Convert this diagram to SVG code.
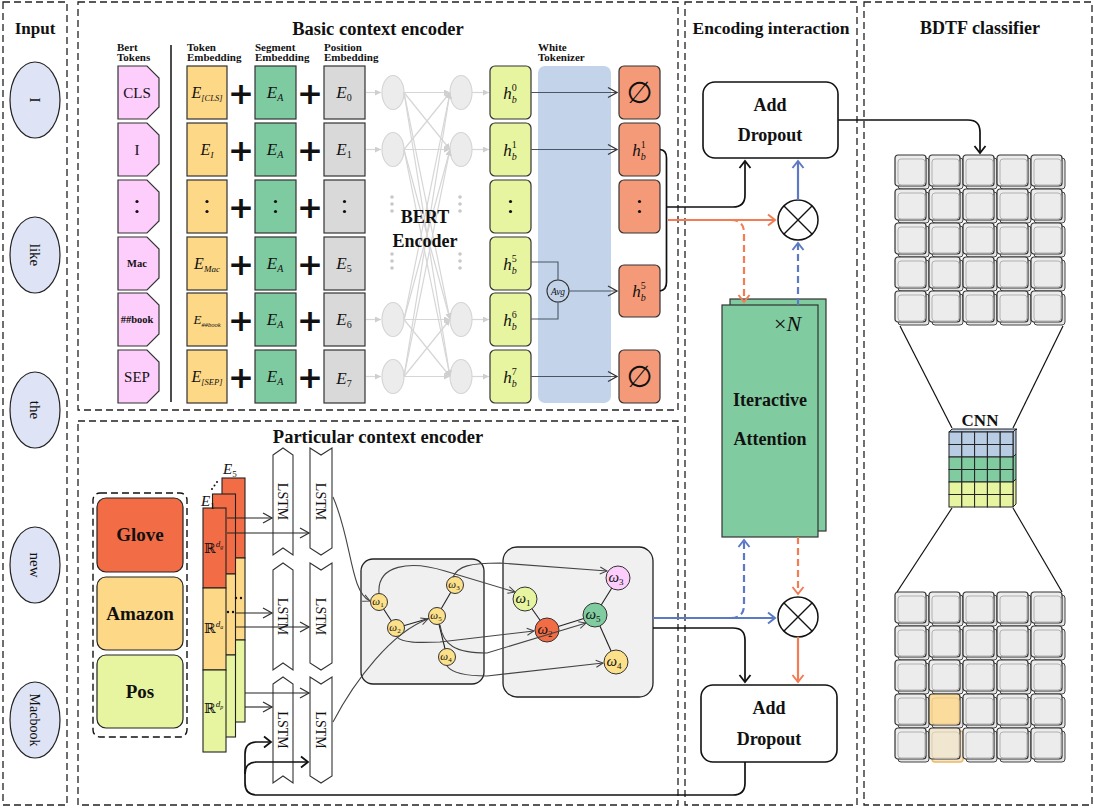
<svg xmlns="http://www.w3.org/2000/svg" width="1094" height="808" viewBox="0 0 1094 808">
<defs>
<style>
.pn{fill:none;stroke:#222;stroke-width:1.3;stroke-dasharray:7 4}
.t{font-family:"Liberation Serif",serif;font-weight:bold;fill:#111}
.r{font-family:"Liberation Serif",serif;fill:#111}
.mi{font-family:"Liberation Serif",serif;font-style:italic;fill:#111}
.pl{font-family:"DejaVu Sans",sans-serif;font-weight:bold;font-size:31px;fill:#111;text-anchor:middle}
.gl{stroke:#d6d6d6;stroke-width:1.2;fill:none}
.ar{stroke:#444;stroke-width:1.1;fill:none}
.bk{stroke:#111;stroke-width:1.7;fill:none}
.or{stroke:#f47c55;stroke-width:2.2;fill:none}
.bl{stroke:#5b79c4;stroke-width:2.2;fill:none}
.dh{stroke-dasharray:7 4}
.tk{fill:#fdcdfb;stroke:#333;stroke-width:1.2}
.te{fill:#fdd887;stroke:#333;stroke-width:1.2}
.se{fill:#7fcba1;stroke:#333;stroke-width:1.2}
.pe{fill:#d9d9d9;stroke:#333;stroke-width:1.2}
.hb{fill:#e8f5a0;stroke:#333;stroke-width:1.2}
.ob{fill:#f59a78;stroke:#333;stroke-width:1.2}
.ne{fill:#ececec;stroke:#d6d6d6;stroke-width:1.2}
.ls{fill:#fff;stroke:#333;stroke-width:1.1}
.gn{stroke:#222;stroke-width:1.1}
.dot{fill:#111}
.gd{fill:#c8c8c8}
</style>
<marker id="mg" markerUnits="userSpaceOnUse" markerWidth="7" markerHeight="7" refX="6" refY="3" orient="auto"><path d="M0,0 L6,3 L0,6 z" fill="#cfcfcf"/></marker>
<marker id="mo" markerUnits="userSpaceOnUse" markerWidth="12" markerHeight="12" refX="9" refY="5" orient="auto" overflow="visible"><path d="M0,0 L9,5 L0,10" fill="none" stroke="#333" stroke-width="1.3"/></marker>
<marker id="mt" markerUnits="userSpaceOnUse" markerWidth="10" markerHeight="10" refX="7" refY="3.5" orient="auto" overflow="visible"><path d="M0,0 L7,3.5 L0,7" fill="none" stroke="#444" stroke-width="1"/></marker>
<marker id="mk" markerUnits="userSpaceOnUse" markerWidth="12" markerHeight="14" refX="7" refY="5.5" orient="auto" overflow="visible"><path d="M0,0 L7,5.5 L0,11" fill="none" stroke="#111" stroke-width="1.8"/></marker>
<marker id="mr" markerUnits="userSpaceOnUse" markerWidth="12" markerHeight="14" refX="7" refY="5.5" orient="auto" overflow="visible"><path d="M0,0 L7,5.5 L0,11" fill="none" stroke="#f47c55" stroke-width="2"/></marker>
<marker id="mb" markerUnits="userSpaceOnUse" markerWidth="12" markerHeight="14" refX="7" refY="5.5" orient="auto" overflow="visible"><path d="M0,0 L7,5.5 L0,11" fill="none" stroke="#5b79c4" stroke-width="2"/></marker>
<g id="cell"><rect x="3" y="3" width="31" height="31" rx="3" fill="#e4e4e4" stroke="#444" stroke-width="1"/><rect x="0" y="0" width="31" height="31" rx="3" fill="#ececec" stroke="#333" stroke-width="1.2"/><rect x="3" y="4" width="27" height="26" rx="3" fill="none" stroke="#b0b0b0" stroke-width="1"/></g>
<g id="cellY"><rect x="3" y="3" width="31" height="31" rx="3" fill="#e4e4e4" stroke="#444" stroke-width="1"/><rect x="0" y="0" width="31" height="31" rx="3" fill="#fbdc9c" stroke="#333" stroke-width="1.2"/><rect x="3" y="4" width="27" height="26" rx="3" fill="none" stroke="#e8c88a" stroke-width="1"/></g>
<g id="cellP"><rect x="3" y="3" width="31" height="31" rx="3" fill="#f1e6cf" stroke="#f0b860" stroke-width="1.4"/><rect x="0" y="0" width="31" height="31" rx="3" fill="#f1e6cf" stroke="#333" stroke-width="1.2"/><rect x="3" y="4" width="27" height="26" rx="3" fill="none" stroke="#d8cdb8" stroke-width="1"/></g>
</defs>
<rect width="1094" height="808" fill="#fff"/>

<g id="panels">
<rect class="pn" x="3" y="2" width="64" height="803"/>
<rect class="pn" x="78" y="2" width="600" height="408"/>
<rect class="pn" x="78" y="421" width="600" height="384"/>
<rect class="pn" x="685" y="2" width="172" height="803"/>
<rect class="pn" x="864" y="2" width="228" height="803"/>
<text class="t" x="35" y="34" font-size="17" text-anchor="middle">Input</text>
<text class="t" x="378" y="35" font-size="18.5" text-anchor="middle">Basic context encoder</text>
<text class="t" x="378" y="443" font-size="18.5" text-anchor="middle">Particular context encoder</text>
<text class="t" x="771" y="34" font-size="17.5" text-anchor="middle">Encoding interaction</text>
<text class="t" x="980" y="34" font-size="18" text-anchor="middle">BDTF classifier</text>
</g>

<g id="input">
<g fill="#dfe3f6" stroke="#222" stroke-width="1.2">
<ellipse cx="35" cy="100" rx="25" ry="38"/>
<ellipse cx="35" cy="255" rx="25" ry="38"/>
<ellipse cx="35" cy="410" rx="25" ry="38"/>
<ellipse cx="35" cy="565" rx="25" ry="38"/>
<ellipse cx="35" cy="720" rx="25" ry="38"/>
</g>
<g class="r" font-size="15" text-anchor="middle">
<text transform="translate(35,100) rotate(90)" y="5">I</text>
<text transform="translate(35,255) rotate(90)" y="5">like</text>
<text transform="translate(35,410) rotate(90)" y="5">the</text>
<text transform="translate(35,565) rotate(90)" y="5">new</text>
<text transform="translate(35,720) rotate(90)" y="5" font-size="14">Macbook</text>
</g>
</g>

<g id="headers" class="t" font-size="11">
<text x="117" y="51">Bert</text><text x="117" y="61">Tokens</text>
<text x="187" y="51">Token</text><text x="187" y="61">Embedding</text>
<text x="255" y="51">Segment</text><text x="255" y="61">Embedding</text>
<text x="324" y="51">Position</text><text x="324" y="61">Embedding</text>
<text x="538" y="51">White</text><text x="538" y="61">Tokenizer</text>
<line x1="171" y1="45" x2="171" y2="402" stroke="#111" stroke-width="1.5"/>
</g>

<g id="white-tokenizer"><rect x="538" y="66" width="73" height="337" rx="7" fill="#c3d4ea"/></g>

<g id="bert-tokens">
<polygon class="tk" points="118,66 147,66 159,78 159,107 147,119 118,119"/>
<polygon class="tk" points="118,123 147,123 159,135 159,164 147,176 118,176"/>
<polygon class="tk" points="118,180 147,180 159,192 159,221 147,233 118,233"/>
<polygon class="tk" points="118,237 147,237 159,249 159,278 147,290 118,290"/>
<polygon class="tk" points="118,293 147,293 159,305 159,334 147,346 118,346"/>
<polygon class="tk" points="118,350 147,350 159,362 159,391 147,403 118,403"/>
<text class="r" x="137" y="98" font-size="15" text-anchor="middle">CLS</text>
<text class="r" x="137" y="155" font-size="15" text-anchor="middle">I</text>
<circle class="dot" cx="137" cy="201.5" r="1.6"/><circle class="dot" cx="137" cy="211.5" r="1.6"/>
<text class="t" x="137" y="267" font-size="10.5" text-anchor="middle">Mac</text>
<text class="t" x="137" y="323" font-size="10.5" text-anchor="middle">##book</text>
<text class="r" x="137" y="382" font-size="15" text-anchor="middle">SEP</text>
</g>

<g id="token-embedding">
<rect class="te" x="187" y="66" width="40" height="53"/>
<rect class="te" x="187" y="123" width="40" height="53"/>
<rect class="te" x="187" y="180" width="40" height="53"/>
<rect class="te" x="187" y="237" width="40" height="53"/>
<rect class="te" x="187" y="293" width="40" height="53"/>
<rect class="te" x="187" y="350" width="40" height="53"/>
<text class="mi" x="207" y="98" font-size="16" text-anchor="middle">E<tspan font-size="8.5" dy="3">[CLS]</tspan></text>
<text class="mi" x="207" y="155" font-size="16" text-anchor="middle">E<tspan font-size="9" dy="3">I</tspan></text>
<circle class="dot" cx="207" cy="201.5" r="1.6"/><circle class="dot" cx="207" cy="211.5" r="1.6"/>
<text class="mi" x="207" y="269" font-size="16" text-anchor="middle">E<tspan font-size="9" dy="3">Mac</tspan></text>
<text class="mi" x="207" y="324" font-size="13" text-anchor="middle">E<tspan font-size="6.5" dy="3">##book</tspan></text>
<text class="mi" x="207" y="382" font-size="16" text-anchor="middle">E<tspan font-size="8.5" dy="3">[SEP]</tspan></text>
</g>

<g id="plus">
<text class="pl" x="241" y="103.5">+</text>
<text class="pl" x="241" y="160.5">+</text>
<text class="pl" x="241" y="217.5">+</text>
<text class="pl" x="241" y="274.5">+</text>
<text class="pl" x="241" y="330.5">+</text>
<text class="pl" x="241" y="387.5">+</text>
<text class="pl" x="310" y="103.5">+</text>
<text class="pl" x="310" y="160.5">+</text>
<text class="pl" x="310" y="217.5">+</text>
<text class="pl" x="310" y="274.5">+</text>
<text class="pl" x="310" y="330.5">+</text>
<text class="pl" x="310" y="387.5">+</text>
</g>

<g id="segment-embedding">
<rect class="se" x="255" y="66" width="41" height="53"/>
<rect class="se" x="255" y="123" width="41" height="53"/>
<rect class="se" x="255" y="180" width="41" height="53"/>
<rect class="se" x="255" y="237" width="41" height="53"/>
<rect class="se" x="255" y="293" width="41" height="53"/>
<rect class="se" x="255" y="350" width="41" height="53"/>
<text class="mi" x="275" y="98" font-size="17" text-anchor="middle">E<tspan font-size="10" dy="3">A</tspan></text>
<text class="mi" x="275" y="155" font-size="17" text-anchor="middle">E<tspan font-size="10" dy="3">A</tspan></text>
<circle class="dot" cx="275.5" cy="201.5" r="1.6"/><circle class="dot" cx="275.5" cy="211.5" r="1.6"/>
<text class="mi" x="275" y="269" font-size="17" text-anchor="middle">E<tspan font-size="10" dy="3">A</tspan></text>
<text class="mi" x="275" y="325" font-size="17" text-anchor="middle">E<tspan font-size="10" dy="3">A</tspan></text>
<text class="mi" x="275" y="382" font-size="17" text-anchor="middle">E<tspan font-size="10" dy="3">A</tspan></text>
</g>

<g id="position-embedding">
<rect class="pe" x="324" y="66" width="41" height="53"/>
<rect class="pe" x="324" y="123" width="41" height="53"/>
<rect class="pe" x="324" y="180" width="41" height="53"/>
<rect class="pe" x="324" y="237" width="41" height="53"/>
<rect class="pe" x="324" y="293" width="41" height="53"/>
<rect class="pe" x="324" y="350" width="41" height="53"/>
<text class="mi" x="344" y="98" font-size="17" text-anchor="middle">E<tspan class="r" font-style="normal" font-size="10" dy="3">0</tspan></text>
<text class="mi" x="344" y="155" font-size="17" text-anchor="middle">E<tspan class="r" font-style="normal" font-size="10" dy="3">1</tspan></text>
<circle class="dot" cx="344.5" cy="201.5" r="1.6"/><circle class="dot" cx="344.5" cy="211.5" r="1.6"/>
<text class="mi" x="344" y="269" font-size="17" text-anchor="middle">E<tspan class="r" font-style="normal" font-size="10" dy="3">5</tspan></text>
<text class="mi" x="344" y="325" font-size="17" text-anchor="middle">E<tspan class="r" font-style="normal" font-size="10" dy="3">6</tspan></text>
<text class="mi" x="344" y="384" font-size="17" text-anchor="middle">E<tspan class="r" font-style="normal" font-size="10" dy="3">7</tspan></text>
</g>

<g id="bert-encoder">
<ellipse class="ne" cx="393" cy="92.5" rx="11" ry="17"/>
<ellipse class="ne" cx="393" cy="149.5" rx="11" ry="17"/>
<ellipse class="ne" cx="393" cy="319.5" rx="11" ry="17"/>
<ellipse class="ne" cx="393" cy="376.5" rx="11" ry="17"/>
<ellipse class="ne" cx="461" cy="92.5" rx="11" ry="17"/>
<ellipse class="ne" cx="461" cy="149.5" rx="11" ry="17"/>
<ellipse class="ne" cx="461" cy="319.5" rx="11" ry="17"/>
<ellipse class="ne" cx="461" cy="376.5" rx="11" ry="17"/>
<circle class="gd" cx="392" cy="197" r="1.8"/><circle class="gd" cx="392" cy="204" r="1.8"/><circle class="gd" cx="392" cy="211" r="1.8"/>
<circle class="gd" cx="392" cy="254" r="1.8"/><circle class="gd" cx="392" cy="261" r="1.8"/><circle class="gd" cx="392" cy="268" r="1.8"/>
<circle class="gd" cx="460" cy="197" r="1.8"/><circle class="gd" cx="460" cy="204" r="1.8"/><circle class="gd" cx="460" cy="211" r="1.8"/>
<circle class="gd" cx="460" cy="254" r="1.8"/><circle class="gd" cx="460" cy="261" r="1.8"/><circle class="gd" cx="460" cy="268" r="1.8"/>
</g>

<g id="hidden-states">
<rect class="hb" x="490" y="66" width="41" height="53" rx="5"/>
<rect class="hb" x="490" y="123" width="41" height="53" rx="5"/>
<rect class="hb" x="490" y="180" width="41" height="53" rx="5"/>
<rect class="hb" x="490" y="237" width="41" height="53" rx="5"/>
<rect class="hb" x="490" y="293" width="41" height="53" rx="5"/>
<rect class="hb" x="490" y="350" width="41" height="53" rx="5"/>
<text class="mi" x="510" y="99" font-size="17" text-anchor="middle">h<tspan font-size="10" dy="4">b</tspan><tspan class="r" font-style="normal" font-size="10" dx="-5" dy="-12">0</tspan></text>
<text class="mi" x="510" y="156" font-size="17" text-anchor="middle">h<tspan font-size="10" dy="4">b</tspan><tspan class="r" font-style="normal" font-size="10" dx="-5" dy="-12">1</tspan></text>
<circle class="dot" cx="510.5" cy="201.5" r="1.6"/><circle class="dot" cx="510.5" cy="211.5" r="1.6"/>
<text class="mi" x="510" y="270" font-size="17" text-anchor="middle">h<tspan font-size="10" dy="4">b</tspan><tspan class="r" font-style="normal" font-size="10" dx="-5" dy="-12">5</tspan></text>
<text class="mi" x="510" y="326" font-size="17" text-anchor="middle">h<tspan font-size="10" dy="4">b</tspan><tspan class="r" font-style="normal" font-size="10" dx="-5" dy="-12">6</tspan></text>
<text class="mi" x="510" y="383" font-size="17" text-anchor="middle">h<tspan font-size="10" dy="4">b</tspan><tspan class="r" font-style="normal" font-size="10" dx="-5" dy="-12">7</tspan></text>
</g>

<g id="avg">
<circle cx="558" cy="291" r="11" fill="#c3d4ea" stroke="#333" stroke-width="1.1"/>
<text class="mi" x="558" y="294.5" font-size="9.5" text-anchor="middle">Avg</text>
</g>

<g id="outputs">
<rect class="ob" x="619" y="66" width="41" height="53" rx="5"/>
<rect class="ob" x="619" y="123" width="41" height="53" rx="5"/>
<rect class="ob" x="619" y="180" width="41" height="53" rx="5"/>
<rect class="ob" x="619" y="265" width="41" height="52" rx="5"/>
<rect class="ob" x="619" y="350" width="41" height="53" rx="5"/>
<text x="639.5" y="103" font-size="30" text-anchor="middle" fill="#111" style="font-family:'DejaVu Sans',sans-serif">∅</text>
<text class="mi" x="639" y="156" font-size="17" text-anchor="middle">h<tspan font-size="10" dy="4">b</tspan><tspan class="r" font-style="normal" font-size="10" dx="-5" dy="-12">1</tspan></text>
<circle class="dot" cx="639.5" cy="201.5" r="1.6"/><circle class="dot" cx="639.5" cy="211.5" r="1.6"/>
<text class="mi" x="639" y="297" font-size="17" text-anchor="middle">h<tspan font-size="10" dy="4">b</tspan><tspan class="r" font-style="normal" font-size="10" dx="-5" dy="-12">5</tspan></text>
<text x="639.5" y="387" font-size="30" text-anchor="middle" fill="#111" style="font-family:'DejaVu Sans',sans-serif">∅</text>
</g>

<g id="sources">
<rect x="93" y="493" width="94" height="244" rx="7" fill="none" stroke="#111" stroke-width="1.4" stroke-dasharray="7 4"/>
<rect x="97" y="498" width="86" height="74" rx="9" fill="#f26d46" stroke="#222" stroke-width="1.2"/>
<rect x="97" y="577" width="86" height="73" rx="9" fill="#fdd887" stroke="#222" stroke-width="1.2"/>
<rect x="97" y="655" width="86" height="73" rx="9" fill="#e8f5a0" stroke="#222" stroke-width="1.2"/>
<text class="t" x="140" y="541" font-size="19" text-anchor="middle">Glove</text>
<text class="t" x="140" y="620" font-size="19" text-anchor="middle">Amazon</text>
<text class="t" x="140" y="698" font-size="19" text-anchor="middle">Pos</text>
</g>

<g id="embedding-stack" stroke="#222" stroke-width="1.1">
<rect x="222" y="478" width="23" height="80" fill="#f26d46"/>
<rect x="222" y="558" width="23" height="82" fill="#fdd887"/>
<rect x="222" y="640" width="23" height="82" fill="#e8f5a0"/>
<rect x="212.5" y="494" width="23" height="80" fill="#f26d46"/>
<rect x="212.5" y="574" width="23" height="81" fill="#fdd887"/>
<rect x="212.5" y="655" width="23" height="82" fill="#e8f5a0"/>
<rect x="203" y="508" width="23" height="80" fill="#f26d46"/>
<rect x="203" y="588" width="23" height="82" fill="#fdd887"/>
<rect x="203" y="670" width="23" height="82" fill="#e8f5a0"/>
<g stroke="none" fill="#111">
<circle cx="236" cy="598" r="1.2"/><circle cx="241" cy="598" r="1.2"/>
<circle cx="228" cy="612" r="1.2"/><circle cx="233" cy="612" r="1.2"/>
<circle cx="212" cy="489" r="1"/><circle cx="214.5" cy="485.5" r="1"/><circle cx="217" cy="482" r="1"/>
<text class="mi" x="201" y="506" font-size="15">E<tspan class="r" font-style="normal" font-size="9" dy="3">1</tspan></text>
<text class="mi" x="223" y="474" font-size="15">E<tspan class="r" font-style="normal" font-size="9" dy="3">5</tspan></text>
<text x="204" y="553" font-size="14" style="font-family:'DejaVu Serif',serif">ℝ<tspan class="mi" font-size="9" dy="-6">d</tspan><tspan class="mi" font-size="6" dy="2">g</tspan></text>
<text x="204" y="633" font-size="14" style="font-family:'DejaVu Serif',serif">ℝ<tspan class="mi" font-size="9" dy="-6">d</tspan><tspan class="mi" font-size="6" dy="2">a</tspan></text>
<text x="204" y="713" font-size="14" style="font-family:'DejaVu Serif',serif">ℝ<tspan class="mi" font-size="9" dy="-6">d</tspan><tspan class="mi" font-size="6" dy="2">p</tspan></text>
</g>
</g>

<g id="lstm">
<polygon class="ls" points="273,455 283,448 293,455 293,555 283,548 273,555"/>
<polygon class="ls" points="310,448 321,455 332,448 332,548 321,555 310,548"/>
<polygon class="ls" points="273,570 283,563 293,570 293,670 283,663 273,670"/>
<polygon class="ls" points="310,563 321,570 332,563 332,663 321,670 310,663"/>
<polygon class="ls" points="273,684 283,677 293,684 293,783 283,776 273,783"/>
<polygon class="ls" points="310,677 321,684 332,677 332,776 321,783 310,776"/>
<g class="r" font-size="14" text-anchor="middle">
<text transform="translate(283,501.5) rotate(90)" y="5">LSTM</text>
<text transform="translate(321,501.5) rotate(90)" y="5">LSTM</text>
<text transform="translate(283,616.5) rotate(90)" y="5">LSTM</text>
<text transform="translate(321,616.5) rotate(90)" y="5">LSTM</text>
<text transform="translate(283,730) rotate(90)" y="5">LSTM</text>
<text transform="translate(321,730) rotate(90)" y="5">LSTM</text>
</g>
</g>

<g id="graph-1">
<rect x="361" y="559" width="123" height="125" rx="12" fill="#f0f0f0" stroke="#222" stroke-width="1.3"/>
<line class="gn" x1="379" y1="602" x2="396" y2="628"/>
<line class="gn" x1="396" y1="628" x2="437" y2="616" stroke-width="2"/>
<line class="gn" x1="437" y1="616" x2="455" y2="585"/>
<line class="gn" x1="437" y1="616" x2="447" y2="657"/>
<g fill="#fde08a" stroke="#333" stroke-width="1">
<circle cx="379" cy="602" r="8.5"/><circle cx="396" cy="628" r="8.5"/><circle cx="437" cy="616" r="8.5"/><circle cx="455" cy="585" r="8.5"/><circle cx="447" cy="657" r="8.5"/>
</g>
<g class="mi" font-size="11" text-anchor="middle">
<text x="378" y="605">ω<tspan font-size="7" font-style="normal" dy="2">1</tspan></text>
<text x="395" y="631">ω<tspan font-size="7" font-style="normal" dy="2">2</tspan></text>
<text x="436" y="619">ω<tspan font-size="7" font-style="normal" dy="2">5</tspan></text>
<text x="454" y="588">ω<tspan font-size="7" font-style="normal" dy="2">3</tspan></text>
<text x="446" y="660">ω<tspan font-size="7" font-style="normal" dy="2">4</tspan></text>
</g>
</g>

<g id="graph-2">
<rect x="503" y="547" width="150" height="150" rx="14" fill="#f0f0f0" stroke="#222" stroke-width="1.3"/>
<line class="gn" x1="525" y1="599" x2="547" y2="630"/>
<line class="gn" x1="547" y1="630" x2="595" y2="615"/>
<line class="gn" x1="595" y1="615" x2="618" y2="578"/>
<line class="gn" x1="595" y1="615" x2="616" y2="662"/>
<g stroke="#333" stroke-width="1">
<circle cx="525" cy="599" r="12" fill="#e8f5a0"/>
<circle cx="547" cy="630" r="12" fill="#f26d46"/>
<circle cx="595" cy="615" r="12" fill="#80cba0"/>
<circle cx="618" cy="578" r="12" fill="#fdcdfb"/>
<circle cx="616" cy="662" r="12" fill="#fde08a"/>
</g>
<g class="mi" font-size="15" text-anchor="middle">
<text x="523" y="603">ω<tspan font-size="9" font-style="normal" dy="3">1</tspan></text>
<text x="545" y="634">ω<tspan font-size="9" font-style="normal" dy="3">2</tspan></text>
<text x="593" y="619">ω<tspan font-size="9" font-style="normal" dy="3">5</tspan></text>
<text x="616" y="582">ω<tspan font-size="9" font-style="normal" dy="3">3</tspan></text>
<text x="614" y="666">ω<tspan font-size="9" font-style="normal" dy="3">4</tspan></text>
</g>
</g>

<g id="add-dropout-top">
<rect x="703" y="82" width="135" height="76" rx="12" fill="#fff" stroke="#111" stroke-width="1.6"/>
<text class="t" x="770" y="111" font-size="18" text-anchor="middle">Add</text>
<text class="t" x="770" y="141" font-size="18" text-anchor="middle">Dropout</text>
</g>

<g id="mult-top">
<circle cx="798" cy="220" r="20" fill="#fff" stroke="#111" stroke-width="1.5"/>
<path d="M784,206 L812,234 M812,206 L784,234" stroke="#111" stroke-width="1.4"/>
</g>

<g id="iterative-attention">
<rect x="730" y="299" width="96" height="232" fill="#80cba0" stroke="#333" stroke-width="1.2"/>
<rect x="722" y="305" width="96" height="232" fill="#80cba0" stroke="#333" stroke-width="1.2"/>
<text class="r" x="774" y="331" font-size="22">×<tspan class="mi">N</tspan></text>
<text class="t" x="770" y="406" font-size="18" text-anchor="middle">Iteractive</text>
<text class="t" x="770" y="445" font-size="18" text-anchor="middle">Attention</text>
</g>

<g id="mult-bottom">
<circle cx="798" cy="617" r="20" fill="#fff" stroke="#111" stroke-width="1.5"/>
<path d="M784,603 L812,631 M812,603 L784,631" stroke="#111" stroke-width="1.4"/>
</g>

<g id="add-dropout-bottom">
<rect x="701" y="685" width="136" height="77" rx="12" fill="#fff" stroke="#111" stroke-width="1.6"/>
<text class="t" x="769" y="714" font-size="18" text-anchor="middle">Add</text>
<text class="t" x="769" y="745" font-size="18" text-anchor="middle">Dropout</text>
</g>

<g id="grid-top">
<use href="#cell" x="895" y="155"/><use href="#cell" x="929" y="155"/><use href="#cell" x="963" y="155"/><use href="#cell" x="997" y="155"/><use href="#cell" x="1031" y="155"/>
<use href="#cell" x="895" y="189"/><use href="#cell" x="929" y="189"/><use href="#cell" x="963" y="189"/><use href="#cell" x="997" y="189"/><use href="#cell" x="1031" y="189"/>
<use href="#cell" x="895" y="223"/><use href="#cell" x="929" y="223"/><use href="#cell" x="963" y="223"/><use href="#cell" x="997" y="223"/><use href="#cell" x="1031" y="223"/>
<use href="#cell" x="895" y="257"/><use href="#cell" x="929" y="257"/><use href="#cell" x="963" y="257"/><use href="#cell" x="997" y="257"/><use href="#cell" x="1031" y="257"/>
<use href="#cell" x="895" y="291"/><use href="#cell" x="929" y="291"/><use href="#cell" x="963" y="291"/><use href="#cell" x="997" y="291"/><use href="#cell" x="1031" y="291"/>
</g>

<g id="cnn">
<g stroke="#222" stroke-width="1">
<path d="M949,432 L952,429 L1017,429 L1014,432 Z" fill="#b8cce4"/>
<path d="M1013,432 L1016,429 L1016,454 L1013,457 Z" fill="#b8cce4"/>
<path d="M1013,457 L1016,454 L1016,479 L1013,482 Z" fill="#80cba0"/>
<path d="M1013,482 L1016,479 L1016,504 L1013,507 Z" fill="#e8f5a0"/>
<rect x="949" y="432" width="12.8" height="12.5" fill="#b8cce4"/><rect x="961.8" y="432" width="12.8" height="12.5" fill="#b8cce4"/><rect x="974.6" y="432" width="12.8" height="12.5" fill="#b8cce4"/><rect x="987.4" y="432" width="12.8" height="12.5" fill="#b8cce4"/><rect x="1000.2" y="432" width="12.8" height="12.5" fill="#b8cce4"/>
<rect x="949" y="444.5" width="12.8" height="12.5" fill="#b8cce4"/><rect x="961.8" y="444.5" width="12.8" height="12.5" fill="#b8cce4"/><rect x="974.6" y="444.5" width="12.8" height="12.5" fill="#b8cce4"/><rect x="987.4" y="444.5" width="12.8" height="12.5" fill="#b8cce4"/><rect x="1000.2" y="444.5" width="12.8" height="12.5" fill="#b8cce4"/>
<rect x="949" y="457" width="12.8" height="12.5" fill="#80cba0"/><rect x="961.8" y="457" width="12.8" height="12.5" fill="#80cba0"/><rect x="974.6" y="457" width="12.8" height="12.5" fill="#80cba0"/><rect x="987.4" y="457" width="12.8" height="12.5" fill="#80cba0"/><rect x="1000.2" y="457" width="12.8" height="12.5" fill="#80cba0"/>
<rect x="949" y="469.5" width="12.8" height="12.5" fill="#80cba0"/><rect x="961.8" y="469.5" width="12.8" height="12.5" fill="#80cba0"/><rect x="974.6" y="469.5" width="12.8" height="12.5" fill="#80cba0"/><rect x="987.4" y="469.5" width="12.8" height="12.5" fill="#80cba0"/><rect x="1000.2" y="469.5" width="12.8" height="12.5" fill="#80cba0"/>
<rect x="949" y="482" width="12.8" height="12.5" fill="#e8f5a0"/><rect x="961.8" y="482" width="12.8" height="12.5" fill="#e8f5a0"/><rect x="974.6" y="482" width="12.8" height="12.5" fill="#e8f5a0"/><rect x="987.4" y="482" width="12.8" height="12.5" fill="#e8f5a0"/><rect x="1000.2" y="482" width="12.8" height="12.5" fill="#e8f5a0"/>
<rect x="949" y="494.5" width="12.8" height="12.5" fill="#e8f5a0"/><rect x="961.8" y="494.5" width="12.8" height="12.5" fill="#e8f5a0"/><rect x="974.6" y="494.5" width="12.8" height="12.5" fill="#e8f5a0"/><rect x="987.4" y="494.5" width="12.8" height="12.5" fill="#e8f5a0"/><rect x="1000.2" y="494.5" width="12.8" height="12.5" fill="#e8f5a0"/>
</g>
<text class="t" x="980" y="426" font-size="17" text-anchor="middle">CNN</text>
</g>

<g id="grid-bottom">
<use href="#cell" x="895" y="592"/><use href="#cell" x="929" y="592"/><use href="#cell" x="963" y="592"/><use href="#cell" x="997" y="592"/><use href="#cell" x="1031" y="592"/>
<use href="#cell" x="895" y="626"/><use href="#cell" x="929" y="626"/><use href="#cell" x="963" y="626"/><use href="#cell" x="997" y="626"/><use href="#cell" x="1031" y="626"/>
<use href="#cell" x="895" y="660"/><use href="#cell" x="929" y="660"/><use href="#cell" x="963" y="660"/><use href="#cell" x="997" y="660"/><use href="#cell" x="1031" y="660"/>
<use href="#cell" x="895" y="694"/><use href="#cellY" x="929" y="694"/><use href="#cell" x="963" y="694"/><use href="#cell" x="997" y="694"/><use href="#cell" x="1031" y="694"/>
<use href="#cell" x="895" y="728"/><use href="#cellP" x="929" y="728"/><use href="#cell" x="963" y="728"/><use href="#cell" x="997" y="728"/><use href="#cell" x="1031" y="728"/>
</g>

<g id="connectors">
<g class="gl" marker-end="url(#mg)">
<line x1="366" y1="92.5" x2="381" y2="92.5"/><line x1="366" y1="149.5" x2="381" y2="149.5"/><line x1="366" y1="319.5" x2="381" y2="319.5"/><line x1="366" y1="376.5" x2="381" y2="376.5"/>
<line x1="472" y1="92.5" x2="489" y2="92.5"/><line x1="472" y1="149.5" x2="489" y2="149.5"/><line x1="472" y1="319.5" x2="489" y2="319.5"/><line x1="472" y1="376.5" x2="489" y2="376.5"/>
<line x1="404" y1="92.5" x2="450" y2="92.5"/><line x1="404" y1="92.5" x2="450" y2="149.5"/><line x1="404" y1="92.5" x2="450" y2="319.5"/><line x1="404" y1="92.5" x2="450" y2="376.5"/>
<line x1="404" y1="149.5" x2="450" y2="92.5"/><line x1="404" y1="149.5" x2="450" y2="149.5"/><line x1="404" y1="149.5" x2="450" y2="319.5"/><line x1="404" y1="149.5" x2="450" y2="376.5"/>
<line x1="404" y1="319.5" x2="450" y2="92.5"/><line x1="404" y1="319.5" x2="450" y2="149.5"/><line x1="404" y1="319.5" x2="450" y2="319.5"/><line x1="404" y1="319.5" x2="450" y2="376.5"/>
<line x1="404" y1="376.5" x2="450" y2="92.5"/><line x1="404" y1="376.5" x2="450" y2="149.5"/><line x1="404" y1="376.5" x2="450" y2="319.5"/><line x1="404" y1="376.5" x2="450" y2="376.5"/>
</g>
<g stroke="#4a5566" stroke-width="1.1" fill="none">
<path d="M531,92.5 H617" marker-end="url(#mo)"/>
<path d="M531,149.5 H617" marker-end="url(#mo)"/>
<path d="M531,376.5 H617" marker-end="url(#mo)"/>
<path d="M531,262 H558 V280"/>
<path d="M531,319 H558 V302"/>
<path d="M569,291 H617" marker-end="url(#mo)"/>
</g>
<path class="bk" d="M660,149.5 Q666.5,150 666.5,158 V282 Q666.5,290 660,291"/>
<path class="bk" d="M666.5,207 H733 Q745,207 745,195 V161" marker-end="url(#mk)"/>
<path class="or" d="M668,220 H775" marker-end="url(#mr)"/>
<path class="or dh" d="M731,220 Q744,220 744,233 V302" marker-end="url(#mr)"/>
<path class="bl" d="M798,200 V161" marker-end="url(#mb)"/>
<path class="bl dh" d="M798,305 V243" marker-end="url(#mb)"/>
<path class="bk" d="M838,120 H968 Q980,120 980,132 V153" marker-end="url(#mk)"/>
<path class="or dh" d="M798,537 V594" marker-end="url(#mr)"/>
<path class="or" d="M798,637 V682" marker-end="url(#mr)"/>
<path class="bl" d="M653,618 H775" marker-end="url(#mb)"/>
<path class="bl dh" d="M731,618 Q744,618 744,605 V540" marker-end="url(#mb)"/>
<path class="bk" d="M653,628 H733 Q745,628 745,640 V682" marker-end="url(#mk)"/>
<path class="bk" d="M745,762 V783 Q745,795 733,795 H257 Q245,795 245,783 V754 Q245,742 257,742 H271" marker-end="url(#mk)"/>
<path class="bk" d="M245,774 Q245,762 257,762 H308" marker-end="url(#mk)"/>
<g stroke="#222" stroke-width="1.1" fill="none" marker-end="url(#mo)">
<path d="M227,518 H272"/>
<path d="M227,533 H309"/>
<path d="M236,613 H272"/>
<path d="M236,627 H309"/>
<path d="M245,693 H309"/>
<path d="M245,707 H272"/>
</g>
<g class="ar" marker-end="url(#mt)">
<path d="M333,497 C352,540 350,592 370,601"/>
<path d="M333,722 C355,680 392,632 428,619"/>
<path d="M379,593 C377,565 410,560 445,571 L515,592"/>
<path d="M453,577 C458,566 470,563 500,563 L607,571"/>
<path d="M397,637 C402,643 420,643 440,642 L534,631"/>
<path d="M440,625 C443,645 455,653 487,653 L586,623"/>
<path d="M447,666 C452,673 465,676 487,676 L603,663"/>
</g>
<g stroke="#111" stroke-width="1.2">
<line x1="900" y1="326" x2="952" y2="428"/>
<line x1="1063" y1="326" x2="1013" y2="428"/>
<line x1="952" y1="508" x2="897" y2="592"/>
<line x1="1013" y1="508" x2="1062" y2="592"/>
</g>
</g>

<g id="bert-label">
<text class="t" x="425" y="223" font-size="18" text-anchor="middle">BERT</text>
<text class="t" x="425" y="247" font-size="18" text-anchor="middle">Encoder</text>
</g>
</svg>
